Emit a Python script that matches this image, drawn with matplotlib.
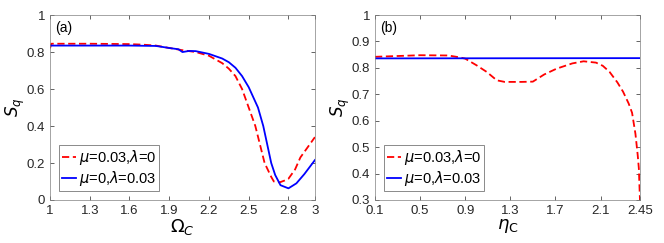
import numpy as np
import matplotlib
matplotlib.use("Agg")
from matplotlib import pyplot as plt

# panel (a): S_q versus Omega_C
omegaRed = [1.0, 1.01, 1.05, 1.3, 1.6, 1.7, 1.8, 1.9, 2.0, 2.1, 2.2, 2.3, 2.35,
            2.4, 2.45, 2.5, 2.55, 2.62, 2.67, 2.69, 2.71, 2.74, 2.77, 2.8,
            2.85, 2.89, 2.95, 3.0]
sqRed = [0.82, 0.845, 0.845, 0.845, 0.843, 0.84, 0.835, 0.822, 0.81, 0.80,
         0.78, 0.74, 0.71, 0.67, 0.60, 0.50, 0.40, 0.20, 0.125, 0.10, 0.095,
         0.097, 0.105, 0.115, 0.165, 0.23, 0.29, 0.34]
omegaBlue = [1.0, 1.3, 1.6, 1.8, 1.9, 1.97, 2.0, 2.05, 2.1, 2.2, 2.3, 2.35,
             2.4, 2.45, 2.5, 2.57, 2.61, 2.67, 2.70, 2.74, 2.80, 2.86, 2.92,
             3.0]
sqBlue = [0.835, 0.835, 0.835, 0.833, 0.822, 0.815, 0.80, 0.806, 0.805, 0.79,
          0.765, 0.745, 0.715, 0.67, 0.61, 0.50, 0.40, 0.20, 0.135, 0.08,
          0.063, 0.09, 0.14, 0.216]

# panel (b): S_q versus eta_C
etaRed = [0.1, 0.3, 0.5, 0.75, 0.85, 0.9, 1.0, 1.09, 1.18, 1.25, 1.4, 1.5,
          1.6, 1.71, 1.85, 1.95, 2.06, 2.12, 2.18, 2.25, 2.3, 2.35, 2.38,
          2.41, 2.43, 2.44, 2.45]
sqEtaRed = [0.842, 0.845, 0.848, 0.847, 0.84, 0.835, 0.81, 0.785, 0.753,
            0.747, 0.747, 0.748, 0.775, 0.797, 0.817, 0.825, 0.82, 0.808,
            0.785, 0.745, 0.71, 0.665, 0.63, 0.55, 0.47, 0.42, 0.3]
etaBlue = [0.1, 2.45]
sqEtaBlue = [0.836, 0.837]

legendLabels = [r'$\mu$=0.03,$\lambda$=0', r'$\mu$=0,$\lambda$=0.03']
xticksA = [1, 1.3, 1.6, 1.9, 2.2, 2.5, 2.8, 3]
xticksB = [0.1, 0.5, 0.9, 1.3, 1.7, 2.1, 2.45]

plt.rcParams['font.family'] = ['Liberation Sans', 'DejaVu Sans']
plt.rcParams['mathtext.fontset'] = 'dejavusans'
axisGrey = '#262626'

fig = plt.figure(figsize=(6.64, 2.43), dpi=100)
axA = fig.add_axes([0.0753, 0.177, 0.399, 0.761])
axB = fig.add_axes([0.5648, 0.177, 0.399, 0.761])


def style_axes(ax):
    """MATLAB-like box with inward ticks"""
    ax.tick_params(direction='in', length=3, width=0.5, labelsize=9.5,
                   top=True, right=True, colors=axisGrey, pad=3.5)
    for spine in ax.spines.values():
        spine.set_linewidth(0.5)
        spine.set_color('#808080')


def add_legend(ax):
    leg = ax.legend(loc='lower left', fontsize=10.5, handlelength=1.0,
                    handletextpad=0.2, borderpad=0.2, labelspacing=0.15,
                    fancybox=False, borderaxespad=0.6)
    leg.get_frame().set_edgecolor('#555555')
    leg.get_frame().set_linewidth(0.6)


axA.plot(omegaRed, sqRed, color='red', linestyle=(0, (4, 2)), lw=1.3,
         label=legendLabels[0])
axA.plot(omegaBlue, sqBlue, color='blue', lw=1.3, label=legendLabels[1])
axA.set_xlim(1, 3)
axA.set_ylim(0, 1)
axA.set_xticks(xticksA)
axA.set_xticklabels(['1', '1.3', '1.6', '1.9', '2.2', '2.5', '2.8', '3'])
axA.set_yticks([0, 0.2, 0.4, 0.6, 0.8, 1])
axA.set_yticklabels(['0', '0.2', '0.4', '0.6', '0.8', '1'])
axA.set_xlabel(r'$\Omega_C$', fontsize=13, labelpad=0)
axA.set_ylabel(r'$S_q$', fontsize=12, labelpad=0)
axA.text(0.02, 0.97, '(a)', transform=axA.transAxes, fontsize=10,
         va='top', ha='left')
style_axes(axA)
add_legend(axA)

axB.plot(etaRed, sqEtaRed, color='red', linestyle=(0, (4, 2)), lw=1.3,
         label=legendLabels[0])
axB.plot(etaBlue, sqEtaBlue, color='blue', lw=1.3, label=legendLabels[1])
axB.set_xlim(0.1, 2.45)
axB.set_ylim(0.3, 1)
axB.set_xticks(xticksB)
axB.set_xticklabels(['0.1', '0.5', '0.9', '1.3', '1.7', '2.1', '2.45'])
axB.set_yticks([0.3, 0.4, 0.5, 0.6, 0.7, 0.8, 0.9, 1])
axB.set_yticklabels(['0.3', '0.4', '0.5', '0.6', '0.7', '0.8', '0.9', '1'])
axB.set_xlabel(r'$\eta_{\rm C}$', fontsize=13, labelpad=0)
axB.set_ylabel(r'$S_q$', fontsize=12, labelpad=0)
axB.text(0.02, 0.97, '(b)', transform=axB.transAxes, fontsize=10,
         va='top', ha='left')
style_axes(axB)
add_legend(axB)

fig.savefig('out.png', dpi=100)
